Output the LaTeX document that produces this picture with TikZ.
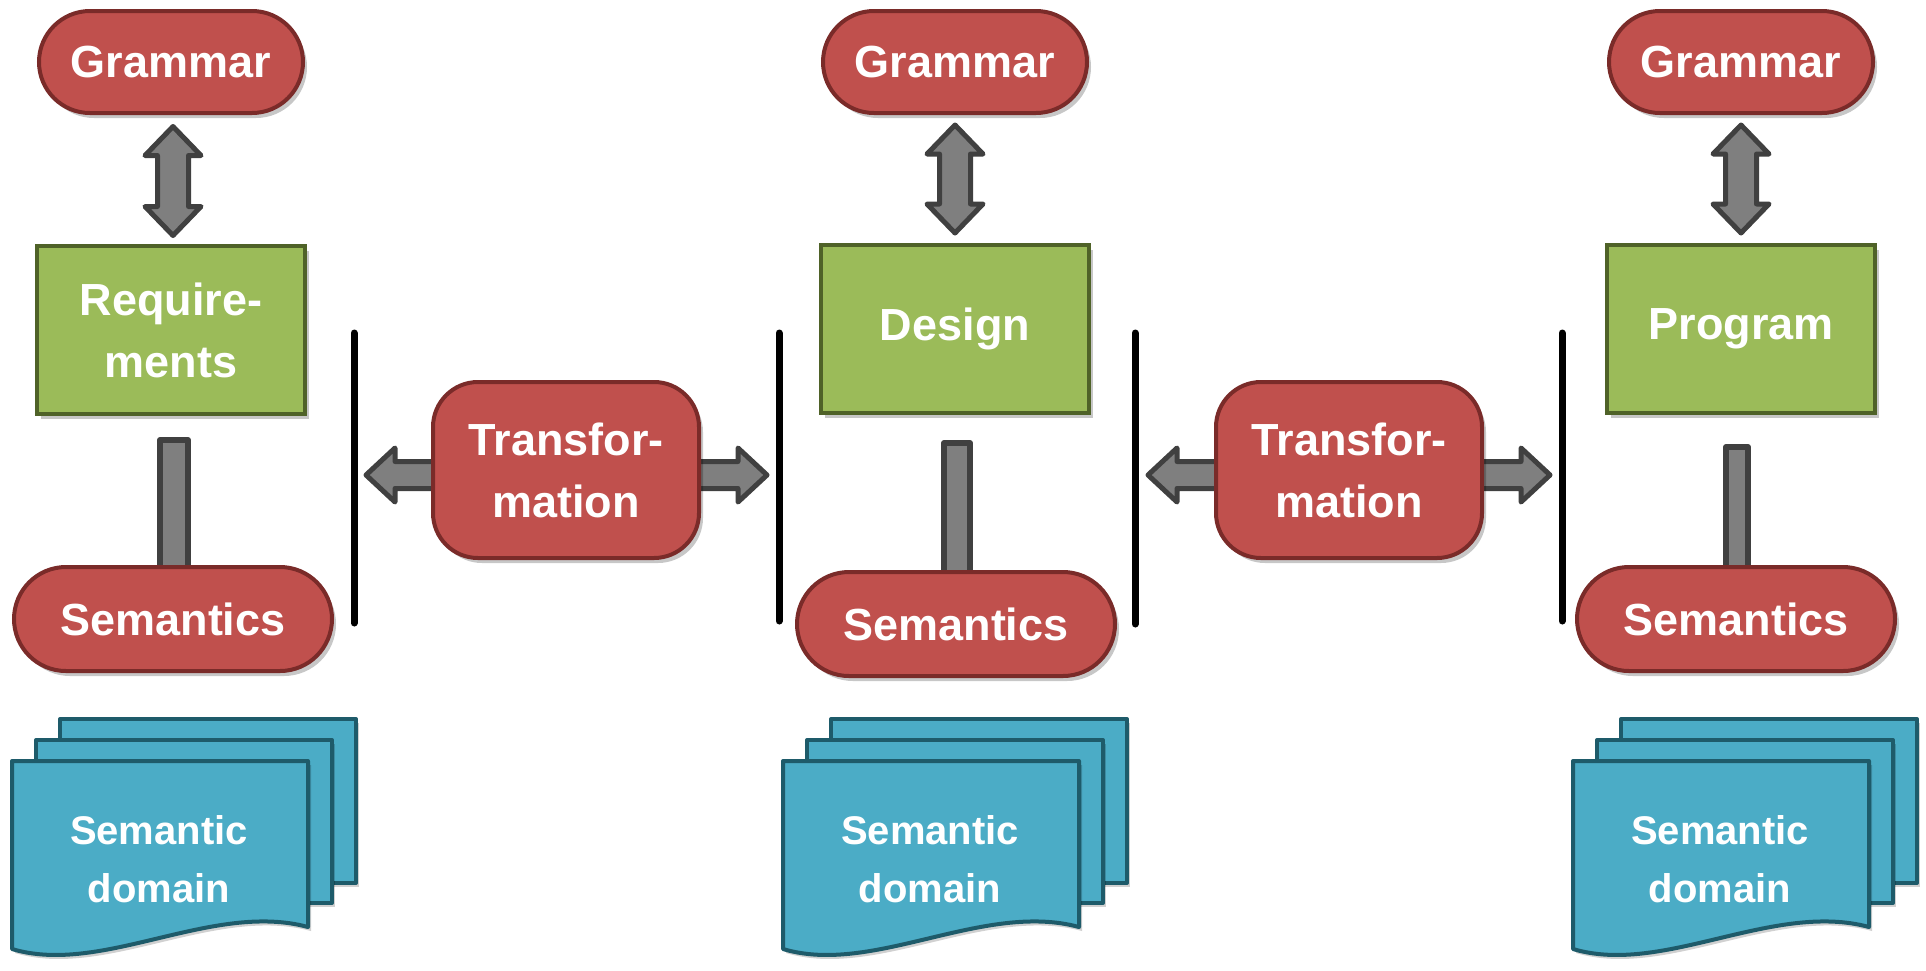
\documentclass[tikz,border=0pt]{standalone}
\usepackage{fontspec}
\setmainfont{Liberation Sans}
\usetikzlibrary{calc,shadows}
\pgfdeclarelayer{back}
\pgfsetlayers{back,main}

\definecolor{redfill}{HTML}{C0504D}
\definecolor{redline}{HTML}{7A2B29}
\definecolor{greenfill}{HTML}{9BBB59}
\definecolor{greenline}{HTML}{4F6228}
\definecolor{bluefill}{HTML}{4BACC6}
\definecolor{blueline}{HTML}{1E5B6A}
\definecolor{arrowfill}{HTML}{7F7F7F}
\definecolor{arrowline}{HTML}{404040}

\tikzset{
  boxtext/.style={text=white, font=\bfseries\fontsize{45}{62}\selectfont, align=center, inner sep=0pt},
  softshadow/.style={drop shadow={shadow xshift=4pt, shadow yshift=-5pt, opacity=0.22, fill=black}},
  pill/.style={boxtext, softshadow, draw=redline, fill=redfill, line width=4pt, rounded corners=51pt, minimum width=264pt, minimum height=102pt},
  widepill/.style={pill, rounded corners=52pt, minimum width=318pt, minimum height=104pt},
  stage/.style={boxtext, softshadow, draw=greenline, fill=greenfill, line width=4pt, minimum width=268pt, minimum height=168pt},
  transform/.style={boxtext, softshadow, draw=redline, fill=redfill, line width=4pt, rounded corners=45pt, minimum width=266pt, minimum height=176pt},
  fatarrow/.style={draw=arrowline, fill=arrowfill, line width=5pt, line join=round},
  bar/.style={draw=arrowline, fill=arrowfill, line width=6pt, line join=round},
  divider/.style={draw=black, line width=7pt, line cap=round},
  sheet/.style={draw=blueline, fill=bluefill, line width=4pt, line join=round,
    drop shadow={shadow xshift=3pt, shadow yshift=-4pt, opacity=0.18, fill=black}},
  doctext/.style={text=white, font=\bfseries\fontsize{40}{58}\selectfont, align=center, inner sep=0pt}
}

% two-headed block arrow between two points (grammar <-> model)
\newcommand\fatdouble[2]{%
  \coordinate (fa-a) at (#1);
  \coordinate (fa-b) at (#2);
  \coordinate (fa-p) at ($(fa-a)!29pt!(fa-b)$);
  \coordinate (fa-q) at ($(fa-b)!29pt!(fa-a)$);
  \draw[fatarrow] (fa-a) -- ($(fa-p)!28pt!90:(fa-b)$) -- ($(fa-p)!15.5pt!90:(fa-b)$)
    -- ($(fa-q)!15.5pt!-90:(fa-a)$) -- ($(fa-q)!28pt!-90:(fa-a)$) -- (fa-b)
    -- ($(fa-q)!28pt!90:(fa-a)$) -- ($(fa-q)!15.5pt!90:(fa-a)$)
    -- ($(fa-p)!15.5pt!-90:(fa-b)$) -- ($(fa-p)!28pt!-90:(fa-b)$) -- cycle;
}

% one-headed block arrow from a start point to its tip
\newcommand\fatsingle[2]{%
  \coordinate (fs-a) at (#1);
  \coordinate (fs-b) at (#2);
  \coordinate (fs-p) at ($(fs-b)!29pt!(fs-a)$);
  \draw[fatarrow] ($(fs-a)!13.5pt!90:(fs-b)$) -- ($(fs-p)!13.5pt!90:(fs-b)$)
    -- ($(fs-p)!27pt!90:(fs-b)$) -- (fs-b) -- ($(fs-p)!27pt!-90:(fs-b)$)
    -- ($(fs-p)!13.5pt!-90:(fs-b)$) -- ($(fs-a)!13.5pt!-90:(fs-b)$) -- cycle;
}

% stack of three sheets; #2,#3 = top-left corner of the front sheet
\newcommand\docstack[3]{%
  \begin{scope}[shift={(#2,#3)}]
    \draw[sheet] (48,-42) rectangle +(296,164);
    \draw[sheet] (24,-21) rectangle +(296,163);
    \draw[sheet] (0,0) -- (296,0) -- (296,166)
      .. controls (200,140) and (90,215) .. (0,188) -- cycle;
    \node[doctext] (#1) at (147,98) {Semantic\\domain};
  \end{scope}
}

\begin{document}
\begin{tikzpicture}[x=1pt, y=-1pt]
  \begin{pgfonlayer}{back}
    \fill[white] (0,0) rectangle (1926,970);
  \end{pgfonlayer}
  \useasboundingbox (0,0) rectangle (1926,970);

  % left column
  \node[pill]      (g1) at (171,62)  {Grammar};
  \node[stage]     (r1) at (171,330) {Require-\\ments};
  \node[widepill]  (s1) at (173,619) {Semantics};

  % middle column
  \node[pill]      (g2) at (955,62)  {Grammar};
  \node[stage]     (d2) at (955,329) {Design};
  \node[widepill]  (s2) at (956,624) {Semantics};

  % right column
  \node[pill]      (g3) at (1741,62)  {Grammar};
  \node[stage]     (p3) at (1741,329) {Program};
  \node[widepill]  (s3) at (1736,619) {Semantics};

  % transformations between the columns
  \node[transform] (t1) at (566,470)  {Transfor-\\mation};
  \node[transform] (t2) at (1349,470) {Transfor-\\mation};

  % separators
  \coordinate (v1a) at (354,333);  \coordinate (v1b) at (354,623);
  \coordinate (v2a) at (779,333);  \coordinate (v2b) at (779,621);
  \coordinate (v3a) at (1135,333); \coordinate (v3b) at (1135,624);
  \coordinate (v4a) at (1562,333); \coordinate (v4b) at (1562,621);
  \draw[divider] (v1a) -- (v1b);
  \draw[divider] (v2a) -- (v2b);
  \draw[divider] (v3a) -- (v3b);
  \draw[divider] (v4a) -- (v4b);

  \begin{pgfonlayer}{back}
    % grammar <-> model
    \fatdouble{$(g1.south)+(2,11.5)$}{$(r1.north)+(2,-8.5)$}
    \fatdouble{$(g2.south)+(0,10)$}{$(d2.north)+(0,-10)$}
    \fatdouble{$(g3.south)+(0,10)$}{$(p3.north)+(0,-10)$}

    % model -- semantics
    \draw[bar] ($(r1.south)+(-11,24)$) rectangle ($(s1.center)+(15,0)$);
    \draw[bar] ($(d2.south)+(-11,28)$) rectangle ($(s2.center)+(14,0)$);
    \draw[bar] ($(p3.south)+(-15,32)$) rectangle ($(s3.center)+(12,0)$);

    % transformation arrows
    \fatsingle{$(t1.center)+(0,5)$}{$(v1a |- t1.center)+(12,5)$}
    \fatsingle{$(t1.center)+(0,5)$}{$(v2a |- t1.center)+(-12,5)$}
    \fatsingle{$(t2.center)+(0,5)$}{$(v3a |- t2.center)+(13,5)$}
    \fatsingle{$(t2.center)+(0,5)$}{$(v4a |- t2.center)+(-12,5)$}
  \end{pgfonlayer}

  % semantic domains
  \docstack{dom1}{12}{761}
  \docstack{dom2}{783}{761}
  \docstack{dom3}{1573}{761}
\end{tikzpicture}
\end{document}
